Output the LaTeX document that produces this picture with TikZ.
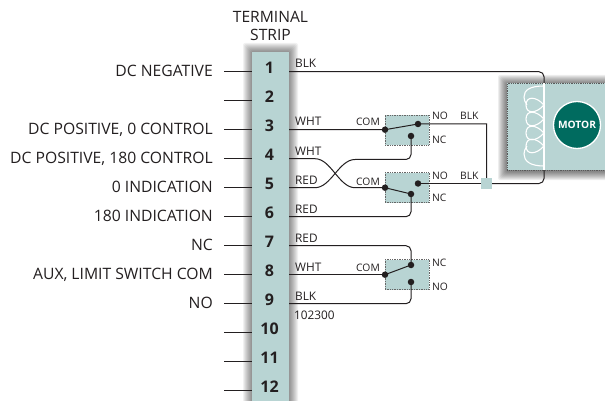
\documentclass[tikz,border=0pt]{standalone}
\usepackage{fontspec}
\setmainfont{Open Sans}
\definecolor{pale}{HTML}{B8D4D3}
\definecolor{teal}{HTML}{006B5F}
\definecolor{wire}{HTML}{231F20}
\tikzset{
 x=1pt,y=-1pt,
 wireline/.style={draw=wire,line width=1pt,rounded corners=5pt},
 stub/.style={draw=wire,line width=0.7pt},
 stubheavy/.style={draw=wire,line width=1.2pt},
 termnum/.style={font=\fontsize{16}{16}\selectfont\bfseries,text=wire,inner sep=0pt},
 sidelabel/.style={font=\fontsize{15.7}{16}\selectfont,text=wire,anchor=base east,inner sep=0pt},
 colorlabel/.style={font=\fontsize{11.8}{12}\selectfont,text=wire,anchor=base west,inner sep=0pt},
 swlabel/.style={font=\fontsize{10.3}{11}\selectfont,text=wire,anchor=base west,inner sep=0pt},
 comlabel/.style={swlabel,anchor=base east},
 swbox/.style={draw=gray!80!black,densely dotted,fill=pale,line width=0.7pt,minimum width=44pt,minimum height=30pt,inner sep=0pt},
 dot/.style={circle,fill=wire,minimum size=6.5pt,inner sep=0pt},
 coilline/.style={draw=white,line width=1.1pt},
}
\begin{document}
\begin{tikzpicture}
\useasboundingbox (0,0) rectangle (605,401);
\fill[white] (0,0) rectangle (605,401);
\clip (0,0) rectangle (605,401);
% shadows
\foreach \d in {9,8,...,1}{
 \fill[black,opacity=0.055,rounded corners=2pt] (252-\d,52-\d) rectangle (289+\d,410);
 \fill[black,opacity=0.065,rounded corners=2pt] (507-\d,83-\d+1) rectangle (610,170+\d+1);
}
% motor box
\node[draw=gray!70!black,densely dotted,fill=pale,line width=0.8pt,minimum width=110pt,minimum height=87pt,inner sep=0pt,anchor=north west] (motorbox) at (507,83) {};
% strip
\node[fill=pale,minimum width=37pt,minimum height=360pt,inner sep=0pt,anchor=north west] (strip) at (252,52) {};
\node[font=\fontsize{15.6}{17.4}\selectfont,text=wire,align=center,inner sep=0pt] (title) at (270.5,26) {TERMINAL\\STRIP};
% terminals
\foreach \n/\y in {1/71.7,2/100.7,3/129.7,4/158.7,5/187.7,6/216.7,7/245.7,8/274.7,9/303.7,10/332.7,11/361.7,12/390.7}{
 \node[termnum] (t\n) at (269.5,\y-4) {\n};
 \coordinate (L\n) at (252,\y);
 \coordinate (R\n) at (289,\y);
 \coordinate (S\n) at (224,\y);
 \coordinate (H\n) at (236,\y);
 \coordinate (RH\n) at (304,\y);
 \draw[stub] (S\n) -- (L\n);
}
\foreach \n in {1,3,4,5,6,7,8,9}{\draw[stubheavy] (H\n) -- (L\n);\draw[stubheavy] (R\n) -- (RH\n);}
% side labels
\node[sidelabel] (lab1) at (213,76.5) {DC NEGATIVE};
\node[sidelabel] (lab3) at (213,134.5) {DC POSITIVE, 0 CONTROL};
\node[sidelabel] (lab4) at (213,163.5) {DC POSITIVE, 180 CONTROL};
\node[sidelabel] (lab5) at (213,192.5) {0 INDICATION};
\node[sidelabel] (lab6) at (213,221.5) {180 INDICATION};
\node[sidelabel] (lab7) at (213,250.5) {NC};
\node[sidelabel] (lab8) at (213,279.5) {AUX, LIMIT SWITCH COM};
\node[sidelabel] (lab9) at (213,308.5) {NO};
% colour labels
\node[colorlabel] (c1) at (295,67.5) {BLK};
\node[colorlabel] (c3) at (295,126) {WHT};
\node[colorlabel] (c4) at (295,155) {WHT};
\node[colorlabel] (c5) at (295,184) {RED};
\node[colorlabel] (c6) at (295,213) {RED};
\node[colorlabel] (c7) at (295,242) {RED};
\node[colorlabel] (c8) at (295,271) {WHT};
\node[colorlabel] (c9) at (295,300) {BLK};
\node[colorlabel] (code) at (294,319) {102300};
% switch boxes
\node[swbox] (sw1) at (407,130) {};
\node[swbox] (sw2) at (407,187.5) {};
\node[swbox] (sw3) at (407,274.5) {};
% switch labels
\node[comlabel] (com1) at (380,125.7) {COM};
\node[swlabel] (no1) at (432,120) {NO};
\node[swlabel] (nc1) at (432,144) {NC};
\node[swlabel] (blk1) at (460,120) {BLK};
\node[comlabel] (com2) at (380,185) {COM};
\node[swlabel] (no2) at (432,179) {NO};
\node[swlabel] (nc2) at (432,201.7) {NC};
\node[swlabel] (blk2) at (460,179) {BLK};
\node[comlabel] (com3) at (380,271) {COM};
\node[swlabel] (nc3) at (432,266.7) {NC};
\node[swlabel] (no3) at (432,290) {NO};
% contacts
\node[dot] (a1) at (385,129.7) {};
\node[dot] (b1) at (418,124) {};
\node[dot] (d1) at (411,136) {};
\node[dot] (a2) at (385,187.7) {};
\node[dot] (b2) at (418,183.5) {};
\node[dot] (d2) at (411,194) {};
\node[dot] (a3) at (385,274.7) {};
\node[dot] (b3) at (411,265) {};
\node[dot] (d3) at (411,282) {};
% junction
\node[fill=pale,minimum size=11pt,inner sep=0pt] (junction) at (486.5,183.5) {};
% wires
\draw[wireline] (R1) -- (544,71.7) -- (544,83);
\draw[draw=wire,line width=1pt] (R3) -- (a1.center) -- (b1.center) -- (486.5,124) -- (junction.north);
\draw[draw=wire,line width=1pt] (a2.center) -- (d2.center);
\draw[draw=wire,line width=1pt] (a3.center) -- (b3.center);
\draw[draw=wire,line width=1pt] (R8) -- (a3.center);
\draw[draw=wire,line width=1pt] (b2.center) -- (junction.west);
\draw[wireline] (junction.east) -- (544,183.5) -- (544,170);
\draw[wireline] (d1.center) -- (411,159.5) -- (355,159.5);
\draw[wireline] (d2.center) -- (411,216.7) -- (R6);
\draw[wireline] (R7) -- (411,245.7) -- (b3.center);
\draw[wireline] (R9) -- (411,303.7) -- (d3.center);
\draw[draw=wire,line width=1pt] (R4) -- (315,158.7) .. controls (331,158.7) and (339,187.7) .. (355,187.7) -- (a2.center);
\draw[draw=wire,line width=1pt] (R5) -- (315,187.7) .. controls (331,187.7) and (339,159.5) .. (355,159.5);
% coil
\draw[coilline,line width=1.4pt] (544,83) -- (544,170);
\draw[coilline] (544,86) .. controls (530,86) and (524,90) .. (524,97) .. controls (524,100) and (525,102) .. (527,105);
\foreach \yc in {105,119,133,146}{
 \draw[coilline] (544,\yc) .. controls (536,\yc-9) and (526,\yc-9) .. (526,\yc) .. controls (526,\yc+9) and (536,\yc+9) .. (544,\yc);
}
\draw[coilline] (527,146) .. controls (525,149) and (524,151) .. (524,154) .. controls (524,161) and (530,166) .. (544,166);
% motor
\node[circle,draw=white,fill=teal,line width=1.3pt,minimum size=47pt,inner sep=0pt,text=white,font=\fontsize{10.2}{10}\selectfont\bfseries] (motor) at (577,125) {MOTOR};
\end{tikzpicture}
\end{document}
